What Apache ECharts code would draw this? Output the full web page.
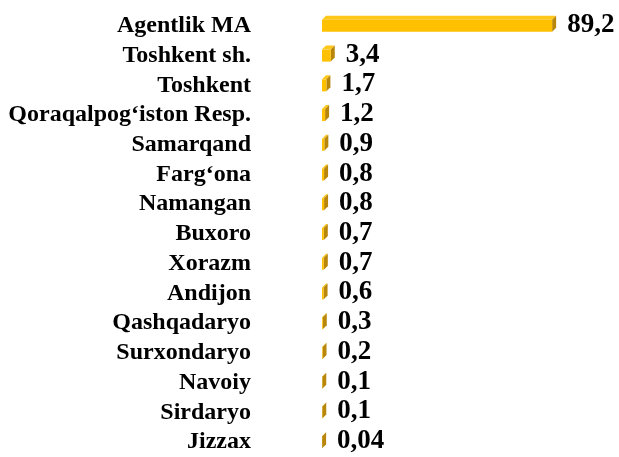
<!DOCTYPE html>
<html><head><meta charset="utf-8">
<script src="https://cdn.jsdelivr.net/npm/echarts@6/dist/echarts.min.js"></script>
<style>html,body{margin:0;padding:0;background:#fff}#c{width:619px;height:457px}</style>
</head><body><div id="c"></div>
<script>
const categories = ["Agentlik MA","Toshkent sh.","Toshkent","Qoraqalpog‘iston Resp.","Samarqand","Farg‘ona","Namangan","Buxoro","Xorazm","Andijon","Qashqadaryo","Surxondaryo","Navoiy","Sirdaryo","Jizzax"];
const values = [89.2,3.4,1.7,1.2,0.9,0.8,0.8,0.7,0.7,0.6,0.3,0.2,0.1,0.1,0.04];
const valueLabels = ["89,2","3,4","1,7","1,2","0,9","0,8","0,8","0,7","0,7","0,6","0,3","0,2","0,1","0,1","0,04"];

const chart = echarts.init(document.getElementById('c'));
const D = 4, H = 12;
chart.setOption({
  animation:false,
  grid:{left:322,right:39,top:11,bottom:-7},
  xAxis:{type:'value',min:0,max:100,show:false},
  yAxis:{type:'category',data:categories,inverse:true,
    axisLine:{show:false},axisTick:{show:false},
    axisLabel:{interval:0,margin:71,fontFamily:'Liberation Serif',fontWeight:'bold',fontSize:24,color:'#000'}},
  series:[{
    type:'custom',
    data:values.map((v,i)=>[v,i]),
    renderItem:function(params,api){
      const v=api.value(0), i=api.value(1);
      const p0=api.coord([0,i]), p1=api.coord([v,i]);
      const x0=p0[0], x1=p1[0], yc=p0[1];
      const yt=yc-H/2, yb=yc+H/2;
      return {type:'group',children:[
        {type:'polygon',shape:{points:[[x0,yt],[x1,yt],[x1+D,yt-D],[x0+D,yt-D]]},style:{fill:'#FFC71A'}},
        {type:'polygon',shape:{points:[[x1,yt],[x1+D,yt-D],[x1+D,yb-D],[x1,yb]]},style:{fill:'#B8860B'}},
        {type:'rect',shape:{x:x0,y:yt,width:x1-x0,height:H},style:{fill:'#FFC000'}},
        {type:'text',x:x1+D+11,y:yc-1,style:{text:valueLabels[params.dataIndex],fontFamily:'Liberation Serif',fontWeight:'bold',fontSize:27,fill:'#000',verticalAlign:'middle',textAlign:'left'}}
      ]};
    }
  }]
});
</script></body></html>
